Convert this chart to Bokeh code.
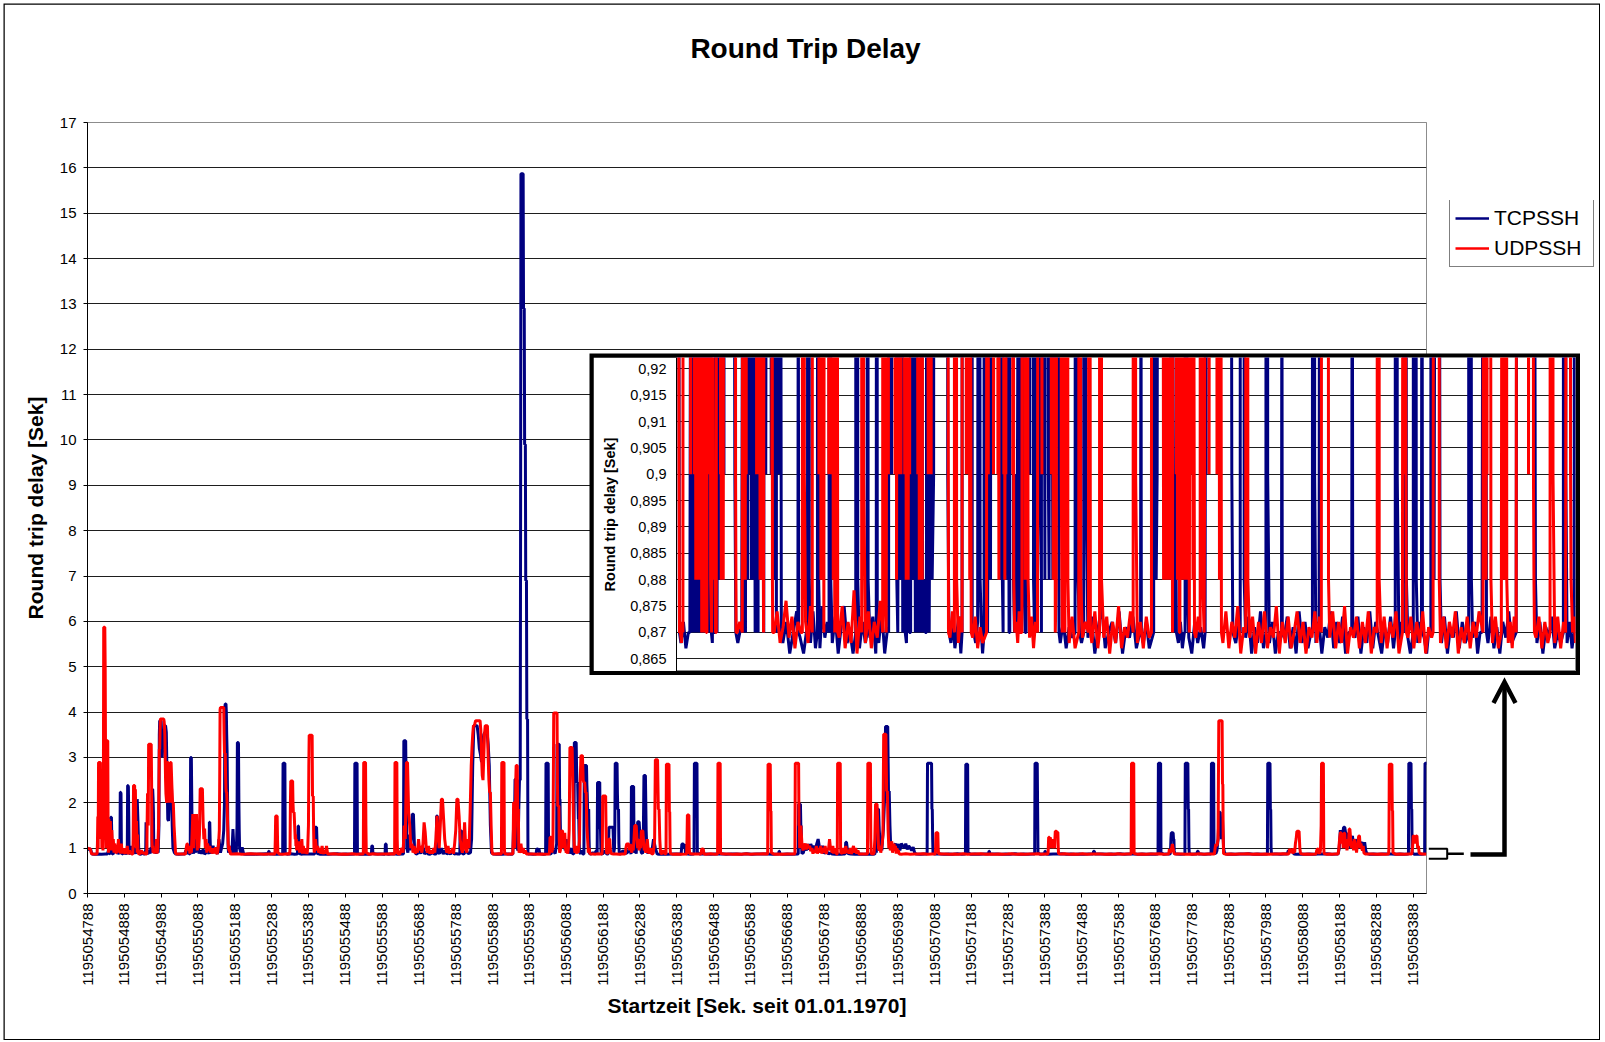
from math import pi
from bokeh.plotting import figure
from bokeh.models import Range1d, FixedTicker, Legend, LegendItem, Label
from bokeh.embed import file_html
from bokeh.resources import INLINE

# ---------------- data ----------------
T0 = 1195054788          # first category (seconds since 01.01.1970)
SPAN = 3636              # seconds shown on the category axis

x_tick_labels = ["1195054788", "1195054888", "1195054988", "1195055088", "1195055188",
                 "1195055288", "1195055388", "1195055488", "1195055588", "1195055688",
                 "1195055788", "1195055888", "1195055988", "1195056088", "1195056188",
                 "1195056288", "1195056388", "1195056488", "1195056588", "1195056688",
                 "1195056788", "1195056888", "1195056988", "1195057088", "1195057188",
                 "1195057288", "1195057388", "1195057488", "1195057588", "1195057688",
                 "1195057788", "1195057888", "1195057988", "1195058088", "1195058188",
                 "1195058288", "1195058388"]
y_ticks = [0, 1, 2, 3, 4, 5, 6, 7, 8, 9, 10, 11, 12, 13, 14, 15, 16, 17]
inset_y_ticks = [0.865, 0.87, 0.875, 0.88, 0.885, 0.89, 0.895, 0.9, 0.905, 0.91, 0.915, 0.92]
inset_y_labels = ["0,865", "0,87", "0,875", "0,88", "0,885", "0,89", "0,895", "0,9",
                  "0,905", "0,91", "0,915", "0,92"]

# runs of samples: (start second after T0, sample step in s, values in s)
tcp_runs = [
    (0, 2, [0.98, 0.99, 0.96, 0.98, 0.99, 0.93, 0.87]),
    (18, 10, [0.868, 0.872, 0.867, 0.870]),
    (54, 3, [0.87, 0.95, 0.88]),
    (62, 1, [0.87, 1.68, 1.68, 1.68, 1.2, 0.88]),
    (70, 3, [0.87, 1.02, 0.9, 0.98, 0.87, 0.92]),
    (88, 1, [0.87, 2.23, 2.23, 2.2, 1.05, 0.87]),
    (96, 3, [0.88, 0.97, 0.87, 0.9]),
    (108, 1, [0.87, 2.38, 2.38, 2.35, 1.7, 0.9]),
    (116, 3, [0.87, 1.05, 0.9, 0.88, 1.02]),
    (131, 2, [0.87, 1.3, 2.08, 1.6, 1.0, 0.87]),
    (145, 4, [0.868, 0.9, 0.87]),
    (156, 1, [0.87, 0.95, 0.88, 1.57, 1.3, 0.9]),
    (164, 3, [0.87, 0.96, 0.88, 1.02]),
    (175, 1, [0.9, 2.3, 2.3, 2.1, 1.8, 0.95]),
    (183, 3, [1.0, 0.88, 0.98, 0.9]),
    (194, 1, [1.5, 3.5, 3.81, 3.81, 3.75, 3.81, 3.81, 3.6, 3.3, 3.0, 3.2, 3.18, 3.4]),
    (208, 2, [3.5, 3.7, 3.7, 3.55, 2.6, 1.64, 1.6, 2.1, 2.45, 2.45, 2.4, 1.5, 1.0]),
    (236, 4, [0.9, 0.87]),
    (248, 12, [0.868, 0.871]),
    (264, 3, [0.87, 0.95, 0.87, 0.98, 0.88]),
    (279, 1, [0.87, 3.0, 3.0, 3.0, 2.2, 1.4, 0.95]),
    (288, 3, [0.88, 1.05, 0.9, 1.6, 1.1, 0.88, 0.95]),
    (310, 4, [0.88, 0.97, 0.87, 0.9, 1.0]),
    (330, 1, [0.87, 1.57, 1.57, 1.2, 0.95]),
    (337, 4, [0.88, 1.05, 0.9, 1.0, 0.87, 1.2]),
    (361, 3, [0.9, 1.0, 1.1, 1.4]),
    (372, 1, [2.0, 4.1, 4.18, 4.18, 4.18, 4.0, 3.5, 3.15, 2.4, 1.5, 1.0, 0.9]),
    (386, 3, [0.95, 1.05, 0.88, 1.42, 0.9, 1.0, 0.87]),
    (406, 1, [1.5, 3.33, 3.33, 3.33, 3.3, 2.08, 1.4, 1.0]),
    (416, 4, [0.9, 1.02, 0.87]),
    (430, 14, [0.868, 0.872, 0.866, 0.870, 0.874]),
    (491, 1, [0.87, 0.93, 0.93, 0.87]),
    (500, 14, [0.869, 0.866, 0.871]),
    (530, 1, [0.87, 2.87, 2.87, 2.87, 2.87, 2.87, 2.87, 0.88]),
    (542, 10, [0.868, 0.874, 0.867]),
    (570, 1, [0.87, 1.2, 1.49, 1.49, 1.1, 0.88]),
    (580, 10, [0.867, 0.875, 0.869, 0.872]),
    (617, 1, [0.87, 1.46, 1.46, 1.46, 1.46, 1.46, 1.2, 0.88]),
    (630, 12, [0.868, 0.873, 0.866, 0.871, 0.875, 0.868, 0.870, 0.866]),
    (725, 1, [0.87, 2.87, 2.87, 2.87, 2.87, 2.87, 2.87, 2.87, 0.88]),
    (740, 12, [0.867, 0.872, 0.868]),
    (771, 1, [0.87, 1.05, 1.05, 1.05, 0.88]),
    (782, 12, [0.869, 0.873, 0.866]),
    (808, 1, [0.87, 1.09, 1.09, 1.09, 0.87]),
    (818, 12, [0.868, 0.874, 0.866, 0.871]),
    (858, 1, [0.87, 3.37, 3.37, 3.37, 3.37, 3.37, 3.37, 2.5, 1.9, 1.0]),
    (870, 3, [0.9, 1.3, 0.95, 1.2, 1.75, 1.75, 1.0, 0.88]),
    (895, 5, [0.87, 0.95, 0.88, 1.05, 0.87, 0.92, 0.87]),
    (930, 6, [0.868, 0.9, 0.87]),
    (947, 1, [0.87, 1.71, 1.71, 1.71, 1.3, 0.9]),
    (956, 5, [0.88, 1.0, 0.87, 0.95, 0.87, 0.9, 0.87, 0.96, 0.87, 0.88, 0.87]),
    (1011, 1, [0.87, 1.38, 1.38, 1.38, 1.38, 1.38, 1.1, 0.88]),
    (1022, 6, [0.87, 0.95, 0.88, 0.9]),
    (1043, 3, [1.2, 2.8, 3.7, 3.7, 3.7, 3.7, 3.5, 3.2, 3.07, 2.9, 3.3, 3.5, 3.55, 3.55,
               3.55, 3.3, 2.82, 1.5, 0.9]),
    (1102, 8, [0.87, 0.868, 0.872, 0.867, 0.870, 0.873, 0.866]),
    (1155, 2, [0.87, 1.5, 1.2, 2.52, 2.52, 1.6, 1.0, 0.95, 1.8]),
    (1173, 1, [2.5, 2.5, 2.5, 8.0, 15.87, 15.87, 15.87, 15.87, 15.87, 15.87, 15.87, 12.9,
               12.9, 12.9, 9.9, 9.9, 9.9, 6.9, 6.9, 6.9, 3.85, 3.85, 3.85, 0.87]),
    (1202, 8, [0.87, 0.868, 0.872]),
    (1220, 2, [0.98, 0.98, 0.97, 0.99, 0.88]),
    (1234, 4, [0.869, 0.866]),
    (1244, 1, [0.87, 2.87, 2.87, 2.87, 2.87, 2.87, 2.87, 2.87, 0.88]),
    (1258, 6, [0.87, 0.95, 0.88]),
    (1274, 1, [1.1, 3.29, 3.29, 3.29, 3.29, 3.29, 3.29, 3.29, 2.08, 2.08, 1.5, 1.0]),
    (1288, 3, [1.2, 1.1, 1.3, 0.95, 1.2, 0.9, 1.05, 0.88, 1.0, 0.9, 0.88]),
    (1321, 1, [0.87, 3.33, 3.33, 3.33, 3.33, 3.33, 3.33, 2.8, 2.45, 2.45, 2.45, 2.0, 1.64,
               1.64, 1.2, 0.9]),
    (1339, 3, [0.88, 0.95, 0.87]),
    (1348, 1, [0.87, 2.82, 2.82, 2.82, 2.82, 2.82, 2.82, 2.82, 2.4, 2.2, 1.86, 1.86, 1.86,
               1.86, 1.2, 0.88]),
    (1367, 5, [0.87, 0.9, 0.87, 0.95]),
    (1384, 1, [0.87, 2.45, 2.45, 2.45, 2.45, 2.45, 2.45, 2.45, 1.42, 1.42, 1.0, 0.87]),
    (1400, 5, [0.88, 0.95, 0.87]),
    (1414, 1, [0.87, 1.1, 1.46, 1.46, 1.46, 1.46, 1.46, 1.46, 1.46, 1.46, 1.46, 1.46, 1.46,
               1.46, 1.2, 0.9]),
    (1431, 1, [1.0, 1.5, 2.87, 2.87, 2.87, 2.87, 2.87, 2.87, 2.2, 1.86, 1.86, 1.86, 1.1, 0.88]),
    (1448, 6, [0.87, 0.95, 0.88, 0.9, 1.0]),
    (1476, 1, [0.87, 2.36, 2.36, 2.36, 2.36, 2.36, 2.36, 2.36, 1.2, 0.9]),
    (1488, 2, [0.95, 0.88, 1.2, 1.58, 1.58, 1.58, 1.3, 1.0, 0.9]),
    (1507, 2, [0.88, 1.0, 2.6, 2.6, 2.6, 1.4, 0.95]),
    (1522, 5, [0.88, 1.0, 0.9, 1.2, 1.0, 0.87]),
    (1552, 12, [0.868, 0.872, 0.867, 0.871, 0.869]),
    (1612, 2, [0.87, 1.09, 1.09, 1.09, 1.0, 1.09, 0.88]),
    (1630, 8, [0.87, 0.868]),
    (1647, 1, [0.87, 2.87, 2.87, 2.87, 2.87, 2.87, 2.87, 2.87, 2.87, 0.9]),
    (1664, 14, [0.869, 0.873, 0.866, 0.871, 0.875, 0.867, 0.870, 0.872, 0.868, 0.874, 0.866,
                0.871, 0.869, 0.873, 0.867, 0.870]),
    (1877, 1, [0.87, 0.93, 0.93, 0.87]),
    (1888, 12, [0.868, 0.872, 0.867]),
    (1930, 1, [0.87, 1.97, 1.97, 1.97, 1.97, 1.97, 1.97, 1.5, 1.5, 1.1, 0.88]),
    (1944, 4, [0.9, 1.05, 0.95, 1.09, 0.97, 1.09, 1.0, 1.05, 0.93, 1.09, 1.2, 1.0, 0.95, 1.05]),
    (2000, 6, [0.88, 0.95, 0.87, 0.9]),
    (2022, 8, [0.87, 0.868, 0.872, 0.867, 0.870]),
    (2057, 2, [0.87, 1.13, 1.13, 1.0, 0.88]),
    (2072, 12, [0.869, 0.866, 0.872, 0.868, 0.871, 0.867]),
    (2138, 2, [0.87, 0.98, 0.9, 1.2, 1.86, 1.86, 1.4]),
    (2153, 2, [1.0, 1.1, 0.95, 1.2, 1.4, 1.8, 2.2, 3.68, 3.68, 3.68, 3.68, 2.26, 2.26, 1.5,
               1.05, 1.1, 1.0, 1.05]),
    (2190, 4, [1.05, 1.1, 1.0, 1.09, 0.95, 1.1, 1.05, 1.0, 1.1, 0.97, 1.05, 1.0, 0.95, 1.02, 0.9]),
    (2250, 12, [0.87, 0.868, 0.872]),
    (2280, 1, [0.87, 2.87, 2.87, 2.87, 2.87, 2.87, 2.87, 2.87, 2.87, 2.87, 2.87, 2.87, 2.87,
               1.86, 1.86, 1.2, 0.88]),
    (2302, 12, [0.869, 0.873, 0.866, 0.871, 0.868, 0.874, 0.867]),
    (2384, 1, [0.87, 2.85, 2.85, 2.85, 2.85, 2.85, 2.85, 0.9]),
    (2398, 12, [0.868, 0.872, 0.866, 0.870]),
    (2447, 1, [0.87, 0.93, 0.93, 0.87]),
    (2458, 12, [0.869, 0.873, 0.867, 0.871, 0.866, 0.874, 0.868, 0.872, 0.867, 0.870]),
    (2572, 1, [0.87, 2.87, 2.87, 2.87, 2.87, 2.87, 2.87, 2.87, 1.9, 0.9]),
    (2586, 6, [0.868, 0.872]),
    (2599, 1, [0.87, 0.93, 0.93, 0.87]),
    (2610, 12, [0.866, 0.871, 0.869, 0.874, 0.867, 0.872, 0.868, 0.873, 0.866, 0.870]),
    (2731, 1, [0.87, 0.93, 0.93, 0.93, 0.87]),
    (2744, 12, [0.869, 0.873, 0.866, 0.871, 0.868, 0.874, 0.867, 0.872, 0.869, 0.866, 0.871,
                0.868, 0.873, 0.867]),
    (2907, 1, [0.87, 2.87, 2.87, 2.87, 2.87, 2.87, 2.87, 2.87, 0.9]),
    (2922, 10, [0.868, 0.872]),
    (2940, 1, [0.87, 0.95, 1.2, 1.34, 1.34, 1.34, 1.34, 1.34, 1.34, 1.2, 1.2, 0.95, 0.88]),
    (2958, 10, [0.869, 0.866]),
    (2980, 1, [0.87, 2.87, 2.87, 2.87, 2.87, 2.87, 2.87, 2.87, 2.87, 1.86, 1.86, 1.0, 0.88]),
    (2998, 8, [0.868, 0.872]),
    (3013, 1, [0.87, 0.93, 0.93, 0.93, 0.87]),
    (3024, 10, [0.869, 0.866, 0.871]),
    (3051, 1, [0.87, 2.87, 2.87, 2.87, 2.87, 2.87, 2.87, 2.87, 0.9]),
    (3064, 3, [0.88, 0.95, 1.2, 1.79, 1.79, 1.2, 1.64, 1.0, 0.88]),
    (3094, 12, [0.868, 0.873, 0.866, 0.871, 0.869, 0.874, 0.867, 0.872, 0.868]),
    (3204, 1, [0.87, 2.87, 2.87, 2.87, 2.87, 2.87, 2.87, 2.87, 1.85, 1.85, 1.0, 0.88]),
    (3220, 10, [0.869, 0.872, 0.866, 0.870]),
    (3258, 3, [0.87, 0.95, 0.93, 0.96, 0.9, 0.95, 0.87]),
    (3282, 12, [0.868, 0.873, 0.867, 0.871, 0.866, 0.872, 0.869, 0.874, 0.868]),
    (3396, 3, [0.87, 1.0, 1.4, 1.2, 1.3, 1.46, 1.46, 1.3, 1.1, 1.34, 1.2, 1.0, 1.2, 1.27, 1.0,
               1.1, 1.2, 1.0, 1.1, 1.13, 1.0, 1.1, 1.13, 1.0, 1.13, 0.95, 0.88]),
    (3480, 12, [0.868, 0.872, 0.866, 0.871, 0.869, 0.873, 0.867, 0.870, 0.868]),
    (3587, 1, [0.87, 2.87, 2.87, 2.87, 2.87, 2.87, 2.87, 2.87, 1.86, 1.86, 0.9]),
    (3602, 10, [0.868, 0.872, 0.867]),
    (3630, 1, [0.87, 0.9, 2.87, 2.87, 2.87, 2.87, 2.87, 2.87, 2.87]),
]

udp_runs = [
    (0, 2, [1.0, 1.0, 0.98, 1.0, 0.97, 0.9, 0.87]),
    (16, 4, [0.87, 0.868, 0.872]),
    (26, 1, [0.87, 1.1, 1.7, 1.0, 2.89, 2.89, 2.89, 2.89, 2.89, 2.89, 1.2, 1.86, 1.86, 1.0,
             1.86, 1.3, 0.95, 1.5, 5.87, 5.87, 5.87, 5.87, 5.0, 3.0, 1.5, 1.0, 3.37, 3.37,
             3.37, 3.37, 1.2, 0.9]),
    (58, 2, [1.64, 1.1, 1.6, 0.95, 1.4, 1.0, 1.2, 0.9, 1.1, 1.0, 0.88, 1.05, 0.9, 1.2, 0.95,
             1.0, 0.88, 1.1, 0.9, 1.0, 0.88, 0.97, 0.87, 1.0, 0.88, 1.05, 0.9, 0.87, 0.95,
             0.87, 0.9, 0.87]),
    (123, 1, [0.87, 1.2, 2.38, 2.38, 2.38, 2.38, 1.3, 2.3, 1.7, 1.0, 1.6, 1.2, 0.9, 1.3, 1.0, 0.88]),
    (142, 4, [0.87, 0.95, 0.88, 0.9, 0.87]),
    (161, 1, [0.87, 1.6, 2.2, 2.2, 1.5, 3.29, 3.29, 3.29, 3.29, 3.29, 3.29, 3.29, 3.29, 2.5,
              1.2, 1.0, 1.05, 0.9, 1.0]),
    (181, 2, [0.88, 1.0, 0.9, 1.2, 0.88, 1.0, 1.5]),
    (194, 1, [2.5, 3.18, 3.18, 3.6, 3.85, 3.85, 3.85, 3.85, 3.85, 3.85, 3.85, 3.85, 3.85,
              3.85, 3.8, 3.7, 3.5, 3.0, 2.5, 2.2]),
    (215, 2, [2.0, 2.89, 2.89, 2.6, 2.0, 2.89, 2.89, 2.4, 2.0, 2.0, 1.5, 1.2, 0.9, 0.87]),
    (246, 10, [0.87, 0.872]),
    (266, 2, [0.87, 1.0, 1.09, 1.09, 0.95, 1.05, 0.88, 1.0, 0.9, 1.3, 1.75, 1.0, 1.75, 1.5,
              1.2, 1.75, 0.95, 1.1, 1.0, 1.3, 2.31, 2.31, 2.31, 2.31, 1.57, 1.2, 1.43, 1.0,
              1.2, 0.9, 1.1, 1.0, 0.95, 1.05, 0.9, 1.0, 0.88, 0.95, 0.9, 1.0, 0.88, 1.02,
              0.9, 0.87, 0.95, 1.1]),
    (358, 1, [1.4, 2.5, 4.05, 4.1, 4.1, 4.1, 4.1, 4.1, 4.1, 4.1, 4.1, 4.1, 4.1, 3.5, 3.1,
              3.1, 3.1, 2.6, 2.3, 2.23, 2.23, 2.0, 1.7, 1.4, 1.1, 1.0, 0.95, 1.05, 0.9,
              0.95, 0.88, 0.87]),
    (395, 12, [0.87, 0.874, 0.868, 0.871, 0.876, 0.869, 0.873, 0.867, 0.872, 0.870]),
    (509, 1, [0.87, 1.2, 1.71, 1.71, 1.71, 1.71, 1.71, 1.2, 0.9]),
    (522, 10, [0.872, 0.868, 0.875]),
    (549, 1, [0.87, 1.0, 2.0, 2.48, 2.48, 2.48, 2.48, 2.48, 2.48, 2.0, 1.79, 1.79, 1.79,
              1.6, 1.4, 1.2, 1.3, 1.05, 1.2, 0.95]),
    (570, 2, [1.1, 0.95, 1.15, 0.9, 1.1, 1.0, 1.2, 0.88, 1.05, 0.9, 1.0, 0.88, 0.95, 0.87,
              1.0, 1.5]),
    (601, 1, [2.8, 3.49, 3.49, 3.49, 3.49, 3.49, 3.49, 3.49, 3.49, 3.49, 2.15, 2.15, 2.15,
              1.4, 1.0, 0.9]),
    (619, 3, [1.2, 0.95, 1.05, 0.9, 1.0, 0.88, 1.05, 0.87, 0.95, 0.88, 1.05, 0.87]),
    (658, 12, [0.869, 0.875, 0.867, 0.872, 0.868, 0.878, 0.866, 0.873]),
    (749, 1, [0.87, 2.89, 2.89, 2.89, 2.89, 2.89, 2.89, 1.5, 0.9]),
    (764, 12, [0.868, 0.874, 0.867, 0.872, 0.869, 0.876]),
    (834, 1, [0.87, 2.89, 2.89, 2.89, 2.89, 2.89, 2.89, 1.2, 0.88]),
    (848, 3, [0.87, 0.95, 1.0, 0.9, 1.5, 1.2, 2.89, 2.89, 1.79, 1.5, 1.0, 1.1, 0.9, 1.05,
              0.88, 1.0, 0.9, 1.2, 0.95, 1.05, 0.9, 1.1, 1.57, 1.35, 1.0, 0.9, 1.05, 0.88]),
    (934, 3, [0.95, 0.88, 1.0, 0.9, 1.2, 1.71, 1.3, 1.0, 1.5, 2.08, 2.08, 1.64, 1.2, 1.0,
              0.9, 1.05, 0.88, 0.95, 0.9, 1.0, 0.88, 1.1, 1.4, 2.08, 2.08, 1.71, 1.2, 1.0,
              0.9, 1.05, 1.57, 1.0, 0.9, 1.2, 1.0, 1.79, 2.82]),
    (1044, 2, [3.2, 3.5, 3.7, 3.7, 3.75, 3.81, 3.81, 3.81, 3.81, 3.81, 3.81, 3.81, 3.6, 3.0,
               2.6, 2.5, 3.0, 3.5, 3.7, 3.7, 3.7, 3.7, 3.0, 2.5, 2.23, 2.23, 1.5, 0.95, 0.87]),
    (1106, 10, [0.869, 0.874]),
    (1124, 1, [0.87, 2.89, 2.89, 2.89, 2.89, 2.89, 2.89, 2.89, 1.0, 0.88]),
    (1140, 8, [0.868, 0.873]),
    (1155, 1, [0.87, 1.2, 2.0, 2.0, 1.6, 1.0, 1.3, 1.5, 2.5, 2.82, 2.82, 2.82, 2.82, 1.86,
               1.86, 1.86, 1.0, 0.9]),
    (1174, 3, [0.95, 1.1, 0.9, 1.0, 0.88, 0.95, 0.87]),
    (1198, 10, [0.869, 0.873, 0.867, 0.871, 0.868]),
    (1254, 1, [0.87, 1.0, 1.24, 1.24, 1.24, 1.24, 1.0, 0.9, 1.0, 0.95, 1.2, 2.5, 3.98, 3.98,
               3.98, 3.98, 3.98, 3.98, 3.98, 3.98, 3.98, 3.98, 2.5, 1.93, 1.93, 1.93, 1.93,
               1.2, 0.9]),
    (1284, 2, [0.95, 1.1, 1.38, 1.38, 1.0, 1.2, 1.34, 1.0, 0.9, 0.95, 0.88, 1.0, 1.4, 3.22,
               3.22, 3.22, 3.22, 2.38, 1.4, 1.0, 0.9, 1.05, 0.88, 0.95, 0.9, 1.0, 1.2, 2.5,
               3.04, 3.04, 3.04, 2.5, 2.45, 2.45, 2.23, 2.23, 1.5, 1.2, 0.9, 1.0, 0.88]),
    (1368, 6, [0.87, 0.872, 0.868, 0.874, 0.87]),
    (1397, 1, [0.87, 1.0, 2.15, 2.15, 2.15, 2.15, 2.15, 2.15, 2.15, 2.15, 2.15, 1.5, 1.0, 0.88]),
    (1414, 2, [0.9, 1.2, 1.2, 0.95, 0.88]),
    (1428, 8, [0.869, 0.873, 0.867, 0.872]),
    (1460, 2, [0.87, 1.0, 1.09, 1.09, 1.09, 1.09, 0.95, 1.09, 1.0, 0.9, 1.05, 0.95, 1.2, 1.5,
               1.5, 1.5, 1.2, 1.0, 1.1, 0.95, 1.2, 1.0, 1.38, 1.38, 1.38, 1.1, 0.95, 1.0,
               0.9, 1.05, 1.2, 1.0, 0.88, 0.95, 0.9, 1.0, 0.87]),
    (1536, 2, [0.88, 1.0, 1.2, 2.95, 2.95, 2.95, 2.95, 1.86, 1.86, 1.2, 0.9]),
    (1560, 4, [0.87, 0.95, 0.88]),
    (1571, 1, [0.87, 2.85, 2.85, 2.85, 2.85, 2.85, 2.85, 2.85, 2.85, 1.8, 1.8, 1.0, 0.88]),
    (1588, 12, [0.868, 0.873, 0.867]),
    (1627, 1, [0.87, 1.2, 1.73, 1.73, 1.73, 1.73, 1.73, 1.0, 0.88]),
    (1642, 12, [0.869, 0.872]),
    (1666, 2, [0.87, 0.98, 0.98, 0.98, 0.87]),
    (1680, 12, [0.868, 0.874, 0.867]),
    (1711, 1, [0.87, 2.87, 2.87, 2.87, 2.87, 2.87, 2.87, 2.87, 0.88]),
    (1728, 12, [0.869, 0.873, 0.866, 0.872, 0.868, 0.875, 0.867, 0.871, 0.869, 0.874]),
    (1847, 1, [0.87, 2.85, 2.85, 2.85, 2.85, 2.85, 2.85, 2.85, 1.82, 1.82, 0.9]),
    (1864, 12, [0.868, 0.872, 0.867, 0.873, 0.869]),
    (1921, 1, [0.87, 2.87, 2.87, 2.87, 2.87, 2.87, 2.87, 2.87, 2.87, 2.87, 2.87, 1.5, 1.5, 1.0]),
    (1937, 3, [1.5, 1.1, 0.95, 1.05, 1.1, 0.97, 1.09, 1.0, 1.05, 0.93, 1.0, 0.88, 0.95, 0.9,
               1.05, 0.88, 1.0, 0.9, 1.05, 0.88, 1.0, 0.9, 1.05, 0.87, 1.0, 0.95, 1.2]),
    (2018, 2, [0.95, 1.0, 0.9, 1.05, 0.88, 1.0, 0.9, 0.95, 0.87]),
    (2036, 1, [0.87, 2.87, 2.87, 2.87, 2.87, 2.87, 2.87, 2.87, 2.87, 1.0, 0.88]),
    (2050, 3, [0.9, 1.0, 0.88, 1.05, 0.9, 0.95, 0.88, 1.0, 0.87, 0.95, 1.05, 0.9, 1.0, 0.88,
               0.95, 0.87]),
    (2100, 10, [0.869, 0.873]),
    (2118, 1, [0.87, 2.87, 2.87, 2.87, 2.87, 2.87, 2.87, 2.87, 2.87, 1.2, 0.88]),
    (2134, 2, [0.87, 0.9, 1.2, 1.97, 1.97, 1.97, 1.5, 1.0, 0.95, 1.05, 0.9, 1.0, 1.1, 1.3,
               3.51, 3.51, 3.51, 3.51, 2.26, 2.26, 1.4, 1.0, 1.1, 0.95, 1.05, 1.15, 0.9, 1.0,
               1.1, 0.95, 1.05, 0.88, 1.0, 0.9, 0.95, 0.87]),
    (2210, 12, [0.868, 0.874, 0.867, 0.872, 0.869, 0.875, 0.866, 0.871]),
    (2302, 1, [0.87, 1.0, 1.34, 1.34, 1.34, 1.34, 1.34, 1.34, 1.0, 0.88]),
    (2318, 12, [0.869, 0.873, 0.866, 0.872, 0.868, 0.874, 0.867, 0.871, 0.869, 0.875, 0.866,
                0.872, 0.868, 0.873, 0.867, 0.870, 0.874, 0.868, 0.872, 0.866, 0.871, 0.869,
                0.874]),
    (2590, 10, [0.868, 0.873]),
    (2608, 1, [0.87, 1.0, 1.24, 1.24, 1.24, 1.0, 1.24, 1.2, 1.2, 1.0, 1.2, 1.1, 1.2, 1.0,
               1.05, 1.2, 1.0, 1.1, 1.0, 1.2, 1.37, 1.37, 1.37, 1.37, 1.35, 1.35, 1.35, 1.35,
               1.0, 0.88]),
    (2642, 12, [0.869, 0.874, 0.867, 0.872, 0.868, 0.875, 0.866, 0.871, 0.869, 0.873, 0.867,
                0.872, 0.868, 0.874, 0.866, 0.871]),
    (2834, 1, [0.87, 2.87, 2.87, 2.87, 2.87, 2.87, 2.87, 2.87, 0.88]),
    (2850, 12, [0.868, 0.873, 0.867, 0.872, 0.869, 0.874, 0.866]),
    (2936, 2, [0.87, 0.98, 0.9, 0.95, 1.0, 1.09, 1.0, 0.9, 0.87]),
    (2958, 12, [0.869, 0.873, 0.867, 0.872, 0.868, 0.874, 0.866, 0.871, 0.869]),
    (3060, 2, [0.87, 1.0, 1.09, 1.05, 1.09]),
    (3070, 1, [1.2, 2.5, 3.81, 3.81, 3.81, 3.81, 3.81, 3.81, 3.81, 3.81, 3.81, 3.81, 2.41,
               2.41, 1.2, 0.88]),
    (3090, 12, [0.868, 0.873, 0.867, 0.872, 0.869, 0.874, 0.866, 0.871, 0.868, 0.873, 0.867,
                0.872, 0.869, 0.874]),
    (3262, 2, [0.87, 0.98, 0.95, 0.98, 0.9, 0.95, 0.88, 1.0, 0.9, 1.1, 1.2, 1.37, 1.37, 1.37,
               1.37, 1.0, 0.88]),
    (3300, 12, [0.868, 0.873, 0.867]),
    (3336, 2, [0.87, 0.95, 0.98, 0.98, 0.9, 0.88, 0.95]),
    (3350, 1, [1.5, 2.87, 2.87, 2.87, 2.87, 2.87, 2.87, 1.0, 0.88]),
    (3364, 8, [0.868, 0.872, 0.867, 0.873]),
    (3396, 2, [0.87, 1.0, 1.2, 1.34, 1.34, 1.1, 1.2, 1.0, 1.33, 1.33, 1.0, 1.2, 0.95, 1.1,
               1.05, 1.42, 1.42, 1.2, 1.0, 1.1, 1.15, 0.95, 1.2, 1.0, 1.1, 0.9, 1.05, 1.15,
               1.27, 1.27, 1.0, 1.1, 1.0, 0.95, 1.05, 0.9, 0.88, 0.87]),
    (3476, 12, [0.869, 0.873, 0.867, 0.872, 0.868]),
    (3533, 1, [0.87, 1.0, 2.85, 2.85, 2.85, 2.85, 2.85, 2.85, 2.85, 2.85, 1.83, 1.83, 0.9]),
    (3552, 12, [0.868, 0.873, 0.867, 0.872]),
    (3596, 2, [0.87, 1.0, 1.27, 1.27, 1.1, 1.2, 1.27, 1.27, 1.0, 1.05, 0.9, 0.88]),
    (3624, 6, [0.87, 0.873, 0.868]),
]

series_names = ["TCPSSH", "UDPSSH"]
series_colors = ["#000080", "#FF0000"]
chart_title = "Round Trip Delay"


def build(runs):
    pts = []
    for start, step, vals in runs:
        for i, v in enumerate(vals):
            pts.append((T0 + start + i * step, v))
    pts.sort(key=lambda q: q[0])
    return [q[0] for q in pts], [q[1] for q in pts]


tcp_x, tcp_y = build(tcp_runs)
udp_x, udp_y = build(udp_runs)

FONT = "Liberation Sans"


def box(left, top):
    return {"position": "absolute", "left": f"{left}px", "top": f"{top}px"}


def blank(w, h, left, top, fill=None):
    f = figure(width=w, height=h, x_range=Range1d(0, w), y_range=Range1d(0, h),
               output_backend="svg", toolbar_location=None,
               x_axis_type=None, y_axis_type=None, min_border=0,
               background_fill_color=fill, border_fill_color=fill, outline_line_color=None,
               styles=box(left, top))
    f.xgrid.visible = False
    f.ygrid.visible = False
    return f


# black backdrops that show as the chart border and the inset border
back_main = blank(1597, 1037, 3, 3, "black")
back_ins = blank(991, 322, 589, 353, "black")

# ---------------- main chart (canvas at page 4,4) ----------------
p = figure(width=1595, height=1035,
           x_range=Range1d(T0, T0 + SPAN), y_range=Range1d(0, 17),
           output_backend="svg", toolbar_location=None,
           min_border_left=83, min_border_right=173, min_border_top=118, min_border_bottom=146,
           background_fill_color="white", border_fill_color="white",
           outline_line_color="#8c8c8c", outline_line_width=1,
           styles=box(4, 4))

x_ticks = [int(s) for s in x_tick_labels]
xa = p.xaxis[0]
xa.ticker = FixedTicker(ticks=x_ticks)
xa.major_label_overrides = {t: s for t, s in zip(x_ticks, x_tick_labels)}
xa.major_label_orientation = pi / 2
xa.axis_label = "Startzeit [Sek. seit 01.01.1970]"
ya = p.yaxis[0]
ya.ticker = FixedTicker(ticks=y_ticks)
ya.axis_label = "Round trip delay [Sek]"
for ax in (xa, ya):
    ax.axis_line_color = "black"
    ax.major_tick_line_color = "black"
    ax.major_tick_out = 4
    ax.major_tick_in = 0
    ax.minor_tick_out = 0
    ax.minor_tick_in = 0
    ax.major_label_text_font = FONT
    ax.major_label_text_font_size = "15px"
    ax.major_label_text_color = "black"
    ax.axis_label_text_font = FONT
    ax.axis_label_text_font_size = "21px"
    ax.axis_label_text_font_style = "bold"
    ax.axis_label_text_color = "black"
xa.major_label_standoff = 6
xa.axis_label_standoff = 5
ya.major_label_standoff = 7
ya.axis_label_standoff = 10

p.xgrid.visible = False
p.ygrid.ticker = FixedTicker(ticks=y_ticks[1:-1])
p.ygrid.grid_line_color = "#1e1e1e"
p.ygrid.grid_line_width = 1

p.line(tcp_x, tcp_y, line_color=series_colors[0], line_width=3)
p.line(udp_x, udp_y, line_color=series_colors[1], line_width=3)

# ---------------- title ----------------
tt = blank(400, 44, 605, 26)
tt.add_layout(Label(x=200, y=22, text=chart_title, text_align="center",
                    text_baseline="middle", text_font=FONT, text_font_size="28px",
                    text_font_style="bold", text_color="black"))

# ---------------- legend ----------------
lg = blank(147, 68, 1448, 200)
# legend swatches only: no points inside the visible range
k_tcp = lg.line([0, 1], [-10, -10], line_color=series_colors[0], line_width=2.5)
k_udp = lg.line([0, 1], [-10, -10], line_color=series_colors[1], line_width=2.5)
legend = Legend(items=[LegendItem(label=series_names[0], renderers=[k_tcp]),
                       LegendItem(label=series_names[1], renderers=[k_udp])],
                location=(1, 1), orientation="vertical",
                border_line_color="black", border_line_width=1,
                background_fill_color="white", background_fill_alpha=1,
                padding=5, spacing=4, margin=0,
                label_height=26, glyph_height=26, glyph_width=34,
                label_standoff=5, label_width=94,
                label_text_font=FONT, label_text_font_size="21px",
                label_text_color="black")
lg.add_layout(legend, "center")

# ---------------- inset (zoom of the lower band) ----------------
ins = figure(width=983, height=314,
             x_range=Range1d(T0, T0 + SPAN), y_range=Range1d(0.86259, 0.92214),
             output_backend="svg", toolbar_location=None, x_axis_type=None,
             min_border_left=83, min_border_right=1, min_border_top=0, min_border_bottom=0,
             background_fill_color="white", border_fill_color="white",
             outline_line_color="#8c8c8c",
             styles=box(593, 357))
iya = ins.yaxis[0]
iya.ticker = FixedTicker(ticks=inset_y_ticks)
iya.major_label_overrides = {t: s for t, s in zip(inset_y_ticks, inset_y_labels)}
iya.axis_label = "Round trip delay [Sek]"
iya.axis_line_color = "black"
iya.major_tick_out = 0
iya.major_tick_in = 0
iya.minor_tick_out = 0
iya.minor_tick_in = 0
iya.major_label_standoff = 10
iya.major_label_text_font = FONT
iya.major_label_text_font_size = "14.5px"
iya.major_label_text_color = "black"
iya.axis_label_text_font = FONT
iya.axis_label_text_font_size = "14.5px"
iya.axis_label_text_font_style = "bold"
iya.axis_label_text_color = "black"
iya.axis_label_standoff = 9
ins.ygrid.ticker = FixedTicker(ticks=inset_y_ticks)
ins.ygrid.grid_line_color = "#1e1e1e"
ins.xgrid.visible = False
ins.line(tcp_x, tcp_y, line_color=series_colors[0], line_width=3)
ins.line(udp_x, udp_y, line_color=series_colors[1], line_width=3)

# ---------------- pointer arrow from the baseline to the inset ----------------
arr = figure(width=100, height=190, x_range=Range1d(0, 100), y_range=Range1d(190, 0),
             output_backend="svg", toolbar_location=None,
             x_axis_type=None, y_axis_type=None, min_border=0,
             background_fill_color=None, border_fill_color=None, outline_line_color=None,
             styles=box(1424, 676))
arr.xgrid.visible = False
arr.ygrid.visible = False
arr.line([4.3, 22.7, 22.7, 4.3], [172.3, 172.3, 182.3, 182.3], line_color="black", line_width=2)
arr.line([22.7, 39.3], [177.3, 177.3], line_color="black", line_width=2.5)
arr.line([46, 80, 80], [178, 178, 6], line_color="black", line_width=4.5, line_join="miter")
arr.line([69, 80, 91], [26.5, 5.5, 26.5], line_color="black", line_width=4.5, line_join="miter")

open("out.html", "w").write(file_html([back_main, p, back_ins, ins, arr, tt, lg], INLINE,
                                      title=chart_title))
